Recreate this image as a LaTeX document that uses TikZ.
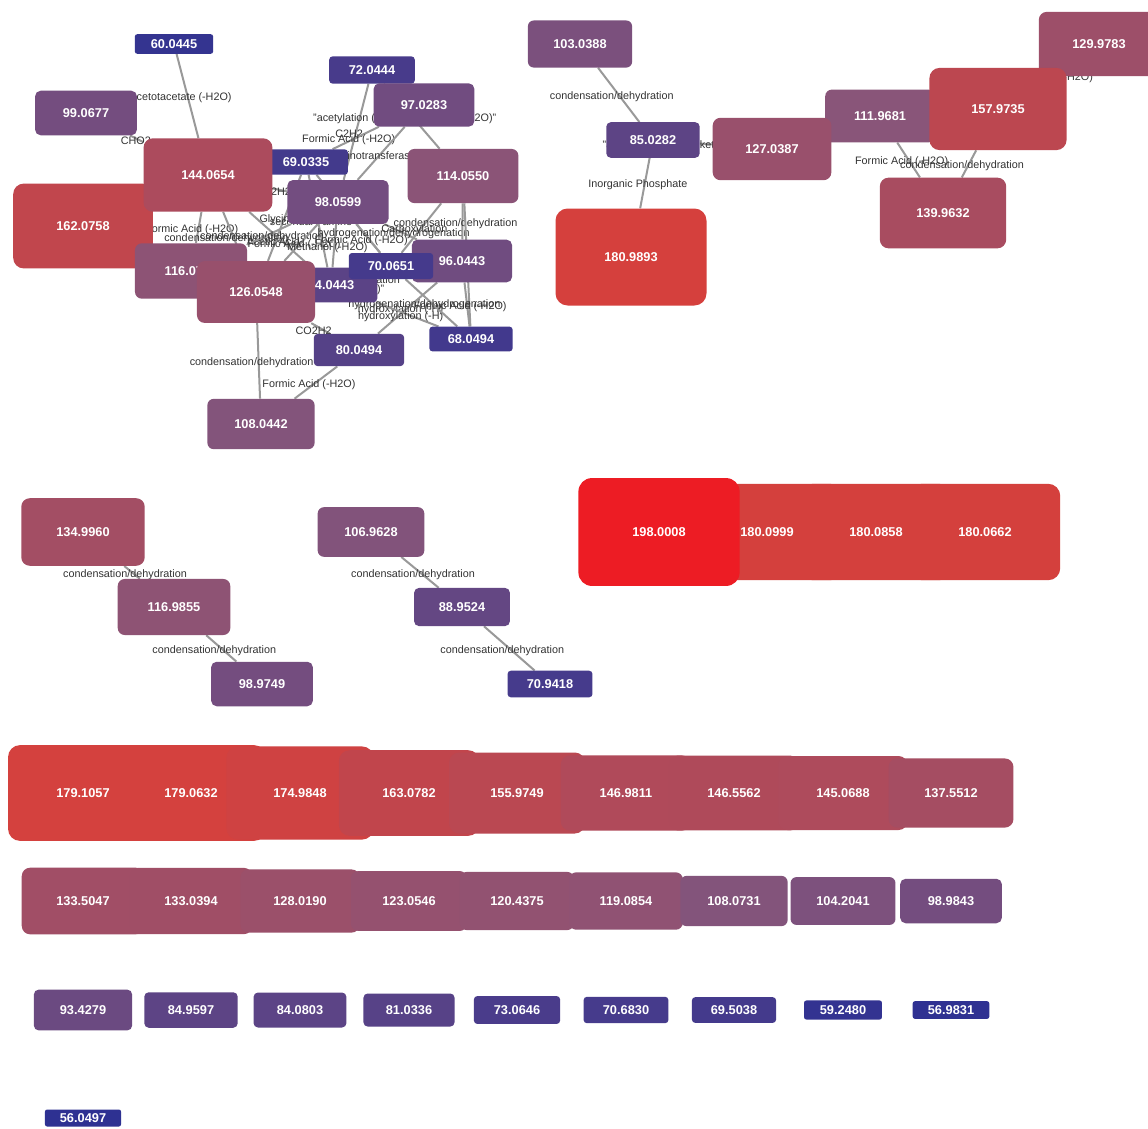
\documentclass[tikz,border=0pt]{standalone}
\usepackage{fontspec}
\setmainfont{Liberation Sans}
\usepackage{xcolor}
\usepackage{tikz}
\pgfdeclarelayer{paper}
\pgfdeclarelayer{edges}
\pgfsetlayers{paper,edges,main}
\definecolor{ionblue}{RGB}{46,49,146}
\definecolor{ionmid}{RGB}{135,85,122}
\definecolor{ionred}{RGB}{214,64,60}
\definecolor{ionhot}{RGB}{237,28,36}
\definecolor{linkgray}{RGB}{153,153,153}
\definecolor{labelgray}{RGB}{51,51,51}

\begin{document}
\begin{tikzpicture}[x=1pt, y=-1pt,
  ion/.code={%
    \pgfmathsetmacro\ionw{76+0.6*(#1-56)}%
    \pgfmathsetmacro\ionh{17+0.64*(#1-56)}%
    \pgfmathsetmacro\ionr{\ionh/8}%
    \pgfmathtruncatemacro\ionlo{min(100,max(0,(#1-56)/54*100))}%
    \pgfmathtruncatemacro\ionhi{min(100,max(0,(#1-110)/71*100))}%
    \pgfmathtruncatemacro\iontop{min(100,max(0,(#1-181)/17*100))}%
    \ifnum\iontop>0 \colorlet{ionfill}{ionhot!\iontop!ionred}%
    \else\ifnum\ionhi>0 \colorlet{ionfill}{ionred!\ionhi!ionmid}%
    \else\colorlet{ionfill}{ionmid!\ionlo!ionblue}\fi\fi
    \edef\ionopts{minimum width=\ionw pt, minimum height=\ionh pt, rounded corners=\ionr pt}%
    \expandafter\pgfkeysalso\expandafter{\ionopts}%
    \pgfkeysalso{fill=ionfill, text=white, inner sep=0pt,
      font=\bfseries\fontsize{12.8}{14}\selectfont}%
  },
  link/.style={draw=linkgray, line width=2pt},
  elab/.style={text=labelgray, font=\fontsize{10.8}{12}\selectfont, inner sep=0pt,
    xshift=-7pt, yshift=-2pt}
]
\useasboundingbox (0,0) rectangle (1148,1128);
\begin{pgfonlayer}{paper}
\fill[white] (0,0) rectangle (1148,1128);
\end{pgfonlayer}

% first cluster
\node[ion=60.0445] (m60) at (174,44) {60.0445};
\node[ion=99.0677] (m99) at (86,113) {99.0677};
\node[ion=72.0444] (m72) at (372,70) {72.0444};
\node[ion=97.0283] (m97) at (424,105) {97.0283};
\node[ion=69.0335] (m69) at (306,162) {69.0335};
\node[ion=162.0758] (m162) at (83,226) {162.0758};
\node[ion=144.0654] (m144) at (208,175) {144.0654};
\node[ion=98.0599] (m98) at (338,202) {98.0599};
\node[ion=114.0550] (m114) at (463,176) {114.0550};
\node[ion=116.0705] (m116) at (191,271) {116.0705};
\node[ion=84.0443] (m84) at (331,285) {84.0443};
\node[ion=126.0548] (m126) at (256,292) {126.0548};
\node[ion=96.0443] (m96) at (462,261) {96.0443};
\node[ion=70.0651] (m70) at (391,266) {70.0651};
\node[ion=80.0494] (m80) at (359,350) {80.0494};
\node[ion=68.0494] (m68) at (471,339) {68.0494};
\node[ion=108.0442] (m108) at (261,424) {108.0442};

% phosphate group
\node[ion=103.0388] (m103) at (580,44) {103.0388};
\node[ion=85.0282] (m85) at (653,140) {85.0282};
\node[ion=111.9681] (m112) at (880,116) {111.9681};
\node[ion=127.0387] (m127) at (772,149) {127.0387};
\node[ion=180.9893] (m181) at (631,257) {180.9893};
\node[ion=129.9783] (m130) at (1099,44) {129.9783};
\node[ion=157.9735] (m158) at (998,109) {157.9735};
\node[ion=139.9632] (m140) at (943,213) {139.9632};

% small chains
\node[ion=134.9960] (m135) at (83,532) {134.9960};
\node[ion=116.9855] (m117) at (174,607) {116.9855};
\node[ion=98.9749] (m99b) at (262,684) {98.9749};
\node[ion=106.9628] (m107) at (371,532) {106.9628};
\node[ion=88.9524] (m89) at (462,607) {88.9524};
\node[ion=70.9418] (m71) at (550,684) {70.9418};
\node[ion=180.0999] (m180a) at (767,532) {180.0999};
\node[ion=180.0858] (m180b) at (876,532) {180.0858};
\node[ion=180.0662] (m180c) at (985,532) {180.0662};
\node[ion=198.0008] (m198) at (659,532) {198.0008};

% unconnected ions
\node[ion=179.1057] (u1) at (83,793) {179.1057};
\node[ion=179.0632] (u2) at (191,793) {179.0632};
\node[ion=174.9848] (u3) at (300,793) {174.9848};
\node[ion=163.0782] (u4) at (409,793) {163.0782};
\node[ion=155.9749] (u5) at (517,793) {155.9749};
\node[ion=146.9811] (u6) at (626,793) {146.9811};
\node[ion=146.5562] (u7) at (734,793) {146.5562};
\node[ion=145.0688] (u8) at (843,793) {145.0688};
\node[ion=137.5512] (u9) at (951,793) {137.5512};
\node[ion=133.5047] (v1) at (83,901) {133.5047};
\node[ion=133.0394] (v2) at (191,901) {133.0394};
\node[ion=128.0190] (v3) at (300,901) {128.0190};
\node[ion=123.0546] (v4) at (409,901) {123.0546};
\node[ion=120.4375] (v5) at (517,901) {120.4375};
\node[ion=119.0854] (v6) at (626,901) {119.0854};
\node[ion=108.0731] (v7) at (734,901) {108.0731};
\node[ion=104.2041] (v8) at (843,901) {104.2041};
\node[ion=98.9843] (v9) at (951,901) {98.9843};
\node[ion=93.4279] (w1) at (83,1010) {93.4279};
\node[ion=84.9597] (w2) at (191,1010) {84.9597};
\node[ion=84.0803] (w3) at (300,1010) {84.0803};
\node[ion=81.0336] (w4) at (409,1010) {81.0336};
\node[ion=73.0646] (w5) at (517,1010) {73.0646};
\node[ion=70.6830] (w6) at (626,1010) {70.6830};
\node[ion=69.5038] (w7) at (734,1010) {69.5038};
\node[ion=59.2480] (w8) at (843,1010) {59.2480};
\node[ion=56.9831] (w9) at (951,1010) {56.9831};
\node[ion=56.0497] (x1) at (83,1118) {56.0497};

\begin{pgfonlayer}{edges}
\draw[link] (m60) -- node[elab]{Acetotacetate (-H2O)} (m144);
\draw[link] (m99) -- node[elab, xshift=6pt]{CHO2} (m144);
\draw[link] (m72) -- node[elab]{C2H2} (m98);
\draw[link] (m72) -- node[elab]{"acetylation (-H2O), ketene (-C2H2O)"} (m114);
\draw[link] (m97) -- node[elab]{Formic Acid (-H2O)} (m69);
\draw[link] (m97) -- node[elab]{aminotransferase} (m98);
\draw[link] (m69) -- node[elab]{Glycine} (m126);
\draw[link] (m69) -- node[elab]{secondary amine} (m84);
\draw[link] (m69) -- node[elab]{aminotransferase} (m70);
\draw[link] (m144) -- node[elab]{CO2H2} (m98);
\draw[link] (m144) -- node[elab]{Formic Acid (-H2O)} (m116);
\draw[link] (m144) -- node[elab]{condensation/dehydration} (m126);
\draw[link] (m144) -- node[elab]{Acetic Acid} (m84);
\draw[link] (m116) -- node[elab]{condensation/dehydration} (m98);
\draw[link] (m126) -- node[elab]{Formic Acid (-H2O)} (m98);
\draw[link] (m126) -- node[elab]{"acetylation (-H2O), ketene (-C2H2O)"} (m84);
\draw[link] (m98) -- node[elab]{Methanol (-H2O)} (m84);
\draw[link] (m98) -- node[elab]{Formic Acid (-H2O)} (m70);
\draw[link] (m98) -- node[elab]{hydrogenation/dehydrogenation} (m96);
\draw[link] (m84) -- node[elab, xshift=10pt, yshift=-4pt]{Carbonylation} (m70);
\draw[link] (m114) -- node[elab]{Carboxylation} (m70);
\draw[link] (m114) -- node[elab]{condensation/dehydration} (m96);
\draw[link] (m114) -- node[elab]{CO2H2} (m68);
\draw[link] (m96) -- node[elab]{Formic Acid (-H2O)} (m68);
\draw[link] (m96) -- node[elab]{hydroxylation (-H)} (m80);
\draw[link] (m84) -- node[elab]{hydroxylation (-H)} (m68);
\draw[link] (m70) -- node[elab]{hydrogenation/dehydrogenation} (m68);
\draw[link] (m126) -- node[elab]{CO2H2} (m80);
\draw[link] (m126) -- node[elab]{condensation/dehydration} (m108);
\draw[link] (m80) -- node[elab]{Formic Acid (-H2O)} (m108);
\draw[link] (m103) -- node[elab]{condensation/dehydration} (m85);
\draw[link] (m85) -- node[elab]{Inorganic Phosphate} (m181);
\draw[link] (m85) -- node[elab, xshift=-5pt]{"acetylation (-H2O), ketene (-C2H2O)"} (m127);
\draw[link] (m112) -- node[elab]{Formic Acid (-H2O)} (m140);
\draw[link] (m158) -- node[elab]{condensation/dehydration} (m140);
\draw[link] (m130) -- node[elab, xshift=-2pt, yshift=-4pt]{Formic Acid (-H2O)} (m158);
\draw[link] (m135) -- node[elab]{condensation/dehydration} (m117);
\draw[link] (m117) -- node[elab]{condensation/dehydration} (m99b);
\draw[link] (m107) -- node[elab]{condensation/dehydration} (m89);
\draw[link] (m89) -- node[elab]{condensation/dehydration} (m71);
\end{pgfonlayer}
\end{tikzpicture}
\end{document}
